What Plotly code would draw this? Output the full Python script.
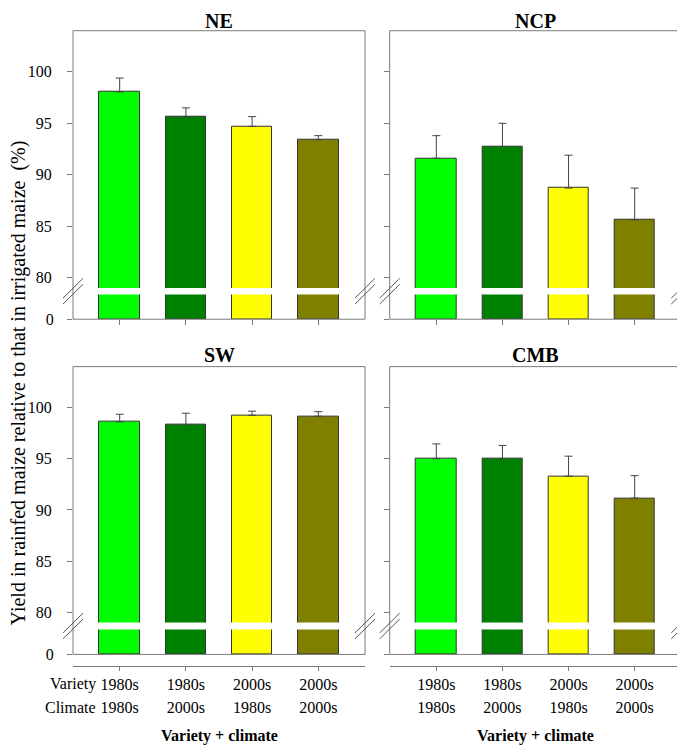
import plotly.graph_objects as go

# ---------------- data ----------------
regions = ["NE", "NCP", "SW", "CMB"]
variety_labels = ["1980s", "1980s", "2000s", "2000s"]
climate_labels = ["1980s", "2000s", "1980s", "2000s"]
bar_colors = ["#00FF00", "#008000", "#FFFF00", "#808000"]

ne_values = [98.05, 95.6, 94.7, 93.4]
ne_errors = [1.35, 0.9, 0.95, 0.4]
ncp_values = [91.6, 92.75, 88.7, 85.6]
ncp_errors = [2.2, 2.25, 3.2, 3.1]
sw_values = [98.6, 98.35, 99.25, 99.15]
sw_errors = [0.75, 1.1, 0.4, 0.45]
cmb_values = [95.0, 95.0, 93.3, 91.15]
cmb_errors = [1.45, 1.3, 1.95, 2.2]

upper_ticks = [80, 85, 90, 95, 100]
lower_ticks = [0]

values = [ne_values, ncp_values, sw_values, cmb_values]
errors = [ne_errors, ncp_errors, sw_errors, cmb_errors]
positions = [0, 1, 2, 3]

# ---------------- layout helpers ----------------
W, H = 685, 747
FONT = "Liberation Serif, Times New Roman, serif"
FRAME = "#7a7a7a"


def fx(px):
    return px / W


def fy(py):
    return 1 - py / H


# panel geometry in pixels
col_x = [(65, 357), (381.7, 673.3)]
row_geo = [
    dict(top=23, gap_top=283.3, gap_bot=290, bottom=315),
    dict(top=363, gap_top=622, gap_bot=629, bottom=654.3),
]
UPPER_RANGE = [79.0, 104.0]
LOWER_RANGE = [0, 10]
X_RANGE = [-0.705, 3.705]
BAR_W = 0.61
OFFSET_AXIS_Y = 666

fig = go.Figure()
layout = dict(
    width=W, height=H,
    margin=dict(l=0, r=0, t=0, b=0),
    paper_bgcolor="white", plot_bgcolor="rgba(0,0,0,0)",
    showlegend=False,
    font=dict(family=FONT, size=16, color="black"),
    bargap=0,
)
shapes = []
annotations = []

for p in range(4):
    r, c = divmod(p, 2)
    g = row_geo[r]
    x0, x1 = col_x[c]
    xi = p + 1
    yu = 2 * p + 1
    yl = 2 * p + 2
    xname = "x" if xi == 1 else f"x{xi}"
    yuname = "y" if yu == 1 else f"y{yu}"
    ylname = f"y{yl}"

    # bars: upper segment with error bars
    fig.add_trace(go.Bar(
        x=positions, y=values[p], width=BAR_W,
        marker=dict(color=bar_colors, line=dict(color="#333333", width=1)),
        error_y=dict(type="data", symmetric=False, array=errors[p],
                     arrayminus=[0] * 4, color="#444444", thickness=1, width=4),
        xaxis=xname, yaxis=yuname, hoverinfo="skip",
    ))
    # bars: lower segment (below the axis break)
    fig.add_trace(go.Bar(
        x=positions, y=values[p], width=BAR_W,
        marker=dict(color=bar_colors, line=dict(color="#333333", width=1)),
        xaxis=xname, yaxis=ylname, hoverinfo="skip",
    ))

    xdom = [fx(x0), fx(x1)]
    xa = dict(domain=xdom, range=X_RANGE, showgrid=False, zeroline=False,
              tickvals=positions, tickcolor=FRAME, ticklen=5, tickwidth=1,
              fixedrange=True)
    if r == 0:
        xa.update(anchor=ylname, ticks="outside", showticklabels=False,
                  showline=False)
    else:
        xa.update(anchor="free", position=fy(OFFSET_AXIS_Y), ticks="outside",
                  ticklen=4,
                  showline=True, linecolor=FRAME, linewidth=1,
                  ticktext=variety_labels, showticklabels=True,
                  tickfont=dict(family=FONT, size=16, color="black"),
                  ticklabelstandoff=0)
    layout["xaxis" if xi == 1 else f"xaxis{xi}"] = xa

    show_lbl = (c == 0)
    ya_u = dict(domain=[fy(g["gap_top"]), fy(g["top"])], range=UPPER_RANGE,
                anchor=xname, showgrid=False, zeroline=False, showline=False,
                tickvals=upper_ticks, ticks="outside", ticklen=5,
                tickcolor=FRAME, tickwidth=1, showticklabels=show_lbl,
                tickfont=dict(family=FONT, size=16, color="black"),
                ticklabelstandoff=12, fixedrange=True)
    ya_l = dict(domain=[fy(g["bottom"]), fy(g["gap_bot"])], range=LOWER_RANGE,
                anchor=xname, showgrid=False, zeroline=False, showline=False,
                tickvals=lower_ticks, ticks="outside", ticklen=5,
                tickcolor=FRAME, tickwidth=1, showticklabels=show_lbl,
                tickfont=dict(family=FONT, size=16, color="black"),
                ticklabelstandoff=10, fixedrange=True)
    layout["yaxis" if yu == 1 else f"yaxis{yu}"] = ya_u
    layout[f"yaxis{yl}"] = ya_l

    # frame
    shapes.append(dict(type="rect", xref="paper", yref="paper",
                       x0=fx(x0), x1=fx(x1), y0=fy(g["bottom"]), y1=fy(g["top"]),
                       line=dict(color=FRAME, width=1), fillcolor="rgba(0,0,0,0)",
                       layer="above"))
    # axis-break marks on left and right edges
    cy = (g["gap_top"] + g["gap_bot"]) / 2
    for ax in (x0, x1):
        for dy in (-3, 3):
            shapes.append(dict(type="line", xref="paper", yref="paper",
                               x0=fx(ax - 10), y0=fy(cy + dy + 10),
                               x1=fx(ax + 10), y1=fy(cy + dy - 10),
                               line=dict(color="#555555", width=1)))
    # panel title
    title_top = 0 if r == 0 else 338
    annotations.append(dict(text=f"<b>{regions[p]}</b>", xref="paper", yref="paper",
                            x=fx((x0 + x1) / 2), y=fy(title_top), xanchor="center",
                            yanchor="top", showarrow=False,
                            font=dict(family=FONT, size=20, color="black")))

# second row of tick labels (climate) for bottom panels
for k, (base, xi) in enumerate([(3, 5), (4, 6)]):
    x0, x1 = col_x[k]
    layout[f"xaxis{xi}"] = dict(
        domain=[fx(x0), fx(x1)], range=X_RANGE, anchor="free",
        overlaying=f"x{base}", position=fy(OFFSET_AXIS_Y), showline=False,
        showgrid=False, zeroline=False, ticks="", tickvals=positions,
        ticktext=climate_labels, tickfont=dict(family=FONT, size=16, color="black"),
        ticklabelstandoff=30, fixedrange=True)
    fig.add_trace(go.Scatter(x=[0], y=[0], mode="markers", marker=dict(opacity=0),
                             xaxis=f"x{xi}", yaxis=f"y{2 * (base - 1) + 2}",
                             hoverinfo="skip"))
    annotations.append(dict(text="<b>Variety + climate</b>", xref="paper", yref="paper",
                            x=fx((x0 + x1) / 2), y=fy(737), xanchor="center",
                            yanchor="middle", showarrow=False,
                            font=dict(family=FONT, size=16, color="black")))

# row headers
annotations.append(dict(text="Variety", xref="paper", yref="paper", x=fx(90), y=fy(684),
                        xanchor="right", yanchor="middle", showarrow=False,
                        font=dict(family=FONT, size=16, color="black")))
annotations.append(dict(text="Climate", xref="paper", yref="paper", x=fx(90), y=fy(708),
                        xanchor="right", yanchor="middle", showarrow=False,
                        font=dict(family=FONT, size=16, color="black")))
# y-axis title
annotations.append(dict(text="Yield in rainfed maize relative to that in irrigated maize&nbsp;&nbsp;(%)",
                        xref="paper", yref="paper", x=fx(10), y=fy(380),
                        xanchor="center", yanchor="middle", textangle=-90,
                        showarrow=False, font=dict(family=FONT, size=20, color="black")))

layout["shapes"] = shapes
layout["annotations"] = annotations
fig.update_layout(**layout)
fig.write_html("out.html")
